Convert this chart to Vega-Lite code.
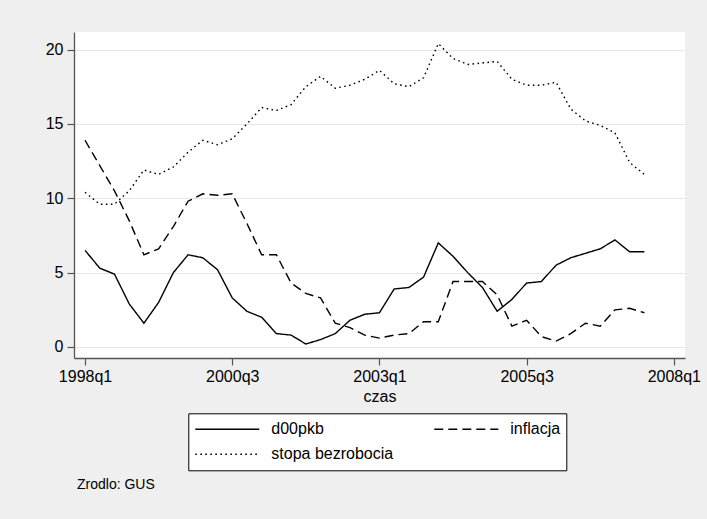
{
  "$schema": "https://vega.github.io/schema/vega-lite/v6.json",
  "width": 611,
  "height": 326,
  "autosize": {"type": "none"},
  "padding": {"left": 74, "top": 32, "right": 22, "bottom": 161},
  "background": "#efefef",
  "config": {
    "font": "Liberation Sans",
    "view": {"fill": "white", "stroke": null},
    "axis": {"labelFont": "Liberation Sans", "titleFont": "Liberation Sans", "labelColor": "black", "titleColor": "black", "titleFontWeight": "normal"}
  },
  "title": {
    "text": "Zrodlo: GUS",
    "orient": "bottom",
    "anchor": "start",
    "frame": "group",
    "dx": 3,
    "offset": 7,
    "font": "Liberation Sans",
    "fontSize": 14,
    "fontWeight": "normal",
    "color": "black"
  },
  "data": {
    "values": [
      {"t": 152, "d00pkb": 6.5, "inflacja": 13.9, "stopa bezrobocia": 10.4},
      {"t": 153, "d00pkb": 5.3, "inflacja": 12.2, "stopa bezrobocia": 9.6},
      {"t": 154, "d00pkb": 4.9, "inflacja": 10.5, "stopa bezrobocia": 9.6},
      {"t": 155, "d00pkb": 2.9, "inflacja": 8.5, "stopa bezrobocia": 10.5},
      {"t": 156, "d00pkb": 1.6, "inflacja": 6.2, "stopa bezrobocia": 11.9},
      {"t": 157, "d00pkb": 3.0, "inflacja": 6.6, "stopa bezrobocia": 11.6},
      {"t": 158, "d00pkb": 5.0, "inflacja": 8.1, "stopa bezrobocia": 12.1},
      {"t": 159, "d00pkb": 6.2, "inflacja": 9.8, "stopa bezrobocia": 13.1},
      {"t": 160, "d00pkb": 6.0, "inflacja": 10.3, "stopa bezrobocia": 13.9},
      {"t": 161, "d00pkb": 5.2, "inflacja": 10.2, "stopa bezrobocia": 13.6},
      {"t": 162, "d00pkb": 3.3, "inflacja": 10.3, "stopa bezrobocia": 14.0},
      {"t": 163, "d00pkb": 2.4, "inflacja": 8.3, "stopa bezrobocia": 15.0},
      {"t": 164, "d00pkb": 2.0, "inflacja": 6.2, "stopa bezrobocia": 16.1},
      {"t": 165, "d00pkb": 0.9, "inflacja": 6.2, "stopa bezrobocia": 15.9},
      {"t": 166, "d00pkb": 0.8, "inflacja": 4.3, "stopa bezrobocia": 16.3},
      {"t": 167, "d00pkb": 0.2, "inflacja": 3.6, "stopa bezrobocia": 17.5},
      {"t": 168, "d00pkb": 0.5, "inflacja": 3.3, "stopa bezrobocia": 18.2},
      {"t": 169, "d00pkb": 0.9, "inflacja": 1.6, "stopa bezrobocia": 17.4},
      {"t": 170, "d00pkb": 1.8, "inflacja": 1.3, "stopa bezrobocia": 17.6},
      {"t": 171, "d00pkb": 2.2, "inflacja": 0.8, "stopa bezrobocia": 18.0},
      {"t": 172, "d00pkb": 2.3, "inflacja": 0.6, "stopa bezrobocia": 18.6},
      {"t": 173, "d00pkb": 3.9, "inflacja": 0.8, "stopa bezrobocia": 17.7},
      {"t": 174, "d00pkb": 4.0, "inflacja": 0.9, "stopa bezrobocia": 17.5},
      {"t": 175, "d00pkb": 4.7, "inflacja": 1.7, "stopa bezrobocia": 18.1},
      {"t": 176, "d00pkb": 7.0, "inflacja": 1.7, "stopa bezrobocia": 20.4},
      {"t": 177, "d00pkb": 6.1, "inflacja": 4.4, "stopa bezrobocia": 19.4},
      {"t": 178, "d00pkb": 5.0, "inflacja": 4.4, "stopa bezrobocia": 19.0},
      {"t": 179, "d00pkb": 4.0, "inflacja": 4.4, "stopa bezrobocia": 19.1},
      {"t": 180, "d00pkb": 2.4, "inflacja": 3.5, "stopa bezrobocia": 19.2},
      {"t": 181, "d00pkb": 3.2, "inflacja": 1.4, "stopa bezrobocia": 18.0},
      {"t": 182, "d00pkb": 4.3, "inflacja": 1.8, "stopa bezrobocia": 17.6},
      {"t": 183, "d00pkb": 4.4, "inflacja": 0.7, "stopa bezrobocia": 17.6},
      {"t": 184, "d00pkb": 5.5, "inflacja": 0.4, "stopa bezrobocia": 17.8},
      {"t": 185, "d00pkb": 6.0, "inflacja": 0.9, "stopa bezrobocia": 16.0},
      {"t": 186, "d00pkb": 6.3, "inflacja": 1.6, "stopa bezrobocia": 15.2},
      {"t": 187, "d00pkb": 6.6, "inflacja": 1.4, "stopa bezrobocia": 14.9},
      {"t": 188, "d00pkb": 7.2, "inflacja": 2.5, "stopa bezrobocia": 14.4},
      {"t": 189, "d00pkb": 6.4, "inflacja": 2.6, "stopa bezrobocia": 12.4},
      {"t": 190, "d00pkb": 6.4, "inflacja": 2.3, "stopa bezrobocia": 11.6}
    ]
  },
  "transform": [
    {"fold": ["d00pkb", "inflacja", "stopa bezrobocia"], "as": ["series", "value"]}
  ],
  "mark": {"type": "line", "color": "black", "strokeWidth": 1.4, "clip": true},
  "encoding": {
    "x": {
      "field": "t",
      "type": "quantitative",
      "title": "czas",
      "scale": {"domain": [151.25, 192.76], "nice": false, "zero": false},
      "axis": {
        "values": [152, 162, 172, 182, 192],
        "labelExpr": "(floor(datum.value / 4) + 1960) + 'q' + (datum.value % 4 + 1)",
        "grid": false,
        "domainColor": "#555555",
        "domainWidth": 1.3,
        "tickColor": "#555555",
        "tickWidth": 1.2,
        "tickSize": 7,
        "labelPadding": 3,
        "labelFontSize": 16,
        "titleFontSize": 16,
        "titlePadding": 4,
        "labelFlush": false,
        "labelOverlap": false
      }
    },
    "y": {
      "field": "value",
      "type": "quantitative",
      "title": null,
      "scale": {"domain": [-0.74, 21.18], "nice": false, "zero": false},
      "axis": {
        "values": [0, 5, 10, 15, 20],
        "grid": true,
        "gridColor": "#e6e6e6",
        "gridWidth": 1.2,
        "domainColor": "#555555",
        "domainWidth": 1.3,
        "tickColor": "#555555",
        "tickWidth": 1.2,
        "tickSize": 7,
        "labelPadding": 4,
        "labelFontSize": 16,
        "labelFlush": false,
        "labelOverlap": false
      }
    },
    "strokeDash": {
      "field": "series",
      "type": "nominal",
      "scale": {
        "domain": ["d00pkb", "inflacja", "stopa bezrobocia"],
        "range": [[1, 0], [9, 5], [1.6, 3.4]]
      },
      "legend": {
        "title": null,
        "orient": "none",
        "direction": "horizontal",
        "legendX": 114.3,
        "legendY": 381.3,
        "columns": 2,
        "columnPadding": 40,
        "rowPadding": 5,
        "clipHeight": 20,
        "padding": 6,
        "symbolType": "stroke",
        "symbolSize": 4096,
        "symbolStrokeWidth": 1.4,
        "symbolStrokeColor": "black",
        "symbolOffset": 0,
        "labelOffset": 11,
        "labelFont": "Liberation Sans",
        "labelFontSize": 16,
        "labelColor": "black",
        "labelLimit": 300,
        "strokeColor": "black",
        "fillColor": "white"
      }
    }
  }
}
